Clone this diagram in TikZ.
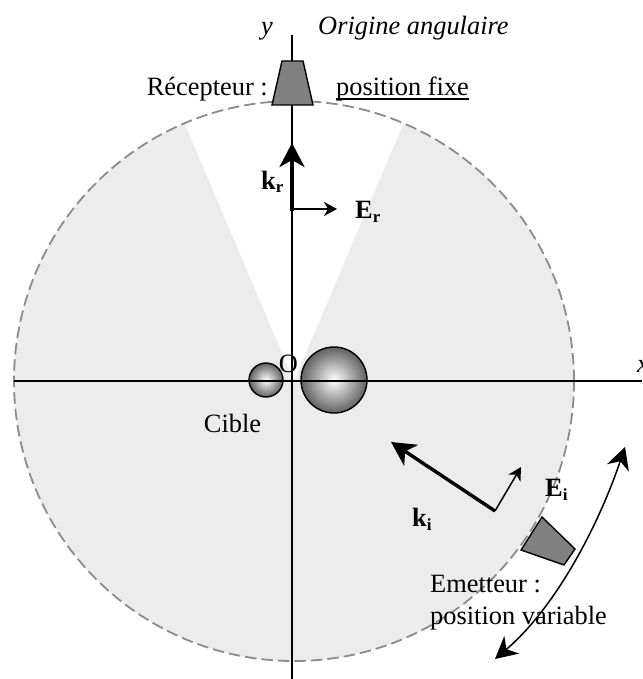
\documentclass[tikz,border=0pt]{standalone}
\usepackage{fontspec}
\setmainfont{Liberation Serif}
\usetikzlibrary{arrows.meta}
\definecolor{discfill}{gray}{0.925}
\definecolor{rimgray}{gray}{0.55}
\definecolor{devgray}{gray}{0.5}
\tikzset{
  axisline/.style={draw=black,line width=1.5pt},
  devicebox/.style={draw=black,fill=devgray,line width=1.4pt,line join=miter},
  sphere/.style={draw=black,line width=1.4pt,inner color=white,outer color=black!62},
  wavevec/.style={line width=3.4pt,-{Stealth[length=24pt,width=25pt,inset=7pt]}},
  fieldvec/.style={line width=1.5pt,-{Stealth[length=13pt,width=14pt,inset=4pt]}},
  sweep/.style={line width=1.5pt,{Stealth[length=22pt,width=23pt,inset=7pt]}-{Stealth[length=22pt,width=23pt,inset=7pt]}},
  lbl/.style={inner sep=0pt,font=\fontsize{26.4}{30}\selectfont},
  blbl/.style={lbl,font=\fontsize{26.4}{30}\selectfont\bfseries},
}
\newcommand{\subb}[1]{\raisebox{-4pt}{\fontsize{17}{17}\selectfont\bfseries #1}}
\begin{document}
\begin{tikzpicture}[x=1pt,y=-1pt]
\useasboundingbox (0,0) rectangle (642,679);
% disc and clear sector
\coordinate (C) at (294,381);
\fill[discfill] (C) circle (280pt);
\fill[white] (C) -- +(113:280pt) arc[start angle=113,end angle=67,radius=280pt] -- cycle;
\draw[rimgray,line width=1.8pt,dash pattern=on 11.5pt off 5pt] (C) circle (280pt);
% spheres
\node[sphere,circle,minimum size=66pt,inner sep=0pt] (big) at (334,380) {};
\node[sphere,circle,minimum size=34pt,inner sep=0pt] (small) at (266,380) {};
% axes
\coordinate (xa) at (14,381);
\coordinate (xb) at (642,381);
\coordinate (ya) at (292,35);
\coordinate (yb) at (292,679);
\draw[axisline] (xa) -- (xb);
\draw[axisline] (ya) -- (yb);
% devices
\draw[devicebox] (282,61) -- (303,61) -- (313,105) -- (272,105) -- cycle;
\draw[devicebox] (542,517) -- (575,549) -- (564,565) -- (521,550) -- cycle;
% received wave
\coordinate (kr0) at (292,211);
\coordinate (kr1) at (292,143);
\coordinate (er0) at (293,209);
\coordinate (er1) at (337,209);
\draw[wavevec] (kr0) -- (kr1);
\draw[fieldvec] (er0) -- (er1);
% incident wave
\coordinate (ki0) at (495,511);
\coordinate (ki1) at (391,442);
\coordinate (ei1) at (521,467);
\draw[wavevec] (ki0) -- (ki1);
\draw[fieldvec] (ki0) -- (ei1);
% labels
\node[lbl,anchor=base] (ylab) at (267,35) {\itshape y};
\node[lbl,anchor=base west] (orig) at (318,35) {\itshape Origine angulaire};
\node[lbl,anchor=base east] (rec) at (268,96) {Récepteur :};
\node[lbl,anchor=base west] (fixe) at (336,96) {position fixe};
\draw[line width=2pt] ([yshift=-3.5pt]fixe.base west) -- ([yshift=-3.5pt]fixe.base east);
\node[lbl,anchor=base west] (xlab) at (637,372) {\itshape x};
\node[blbl,anchor=base west] (krl) at (261,189) {k\subb{r}};
\node[blbl,anchor=base west] (erl) at (355,218) {E\subb{r}};
\node[lbl,anchor=base] (olab) at (288.5,372) {O};
\node[lbl,anchor=base] (cible) at (232.5,432) {Cible};
\node[blbl,anchor=base west] (kil) at (412,526) {k\subb{i}};
\node[blbl,anchor=base west] (eil) at (545,496) {E\subb{i}};
\node[lbl,anchor=base west] (em1) at (430,592) {Emetteur :};
\node[lbl,anchor=base west] (em2) at (430,624) {position variable};
% sweep arrow
\coordinate (sa) at (625,447);
\coordinate (sb) at (495,659);
\draw[sweep] (sb) .. controls (555,608) and (598,527) .. (sa);
\end{tikzpicture}
\end{document}
